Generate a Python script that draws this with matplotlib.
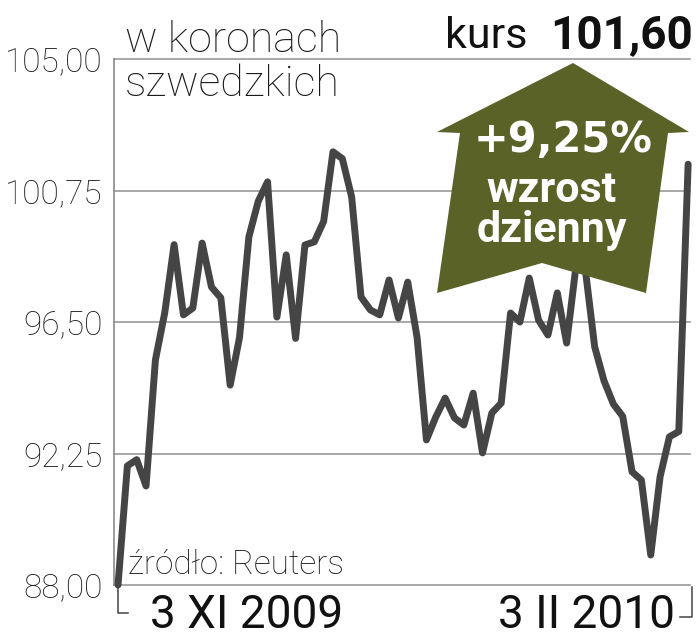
import matplotlib
matplotlib.use('Agg')
import matplotlib.pyplot as plt
from matplotlib.patches import Polygon
from matplotlib.lines import Line2D

# kurs akcji w koronach szwedzkich, 3 XI 2009 - 3 II 2010 (sesje)
kurs = [88.0, 91.85, 92.05, 91.2, 95.27, 96.8, 99.0, 96.73, 96.95, 99.05,
        97.63, 97.28, 94.46, 96.0, 99.25, 100.4, 101.03, 96.66, 98.67, 95.97,
        98.99, 99.09, 99.75, 102.0, 101.78, 100.54, 97.31, 96.89, 96.73, 97.86,
        96.63, 97.79, 96.0, 92.69, 93.43, 94.04, 93.4, 93.17, 94.2, 92.27,
        93.56, 93.88, 96.79, 96.5, 97.92, 96.56, 96.08, 97.44, 95.82, 98.3,
        98.2, 95.7, 94.6, 93.85, 93.45, 91.66, 91.39, 88.97, 91.5, 92.79,
        92.96, 101.6]
sesje = list(range(len(kurs)))

y_ticks = [88.0, 92.25, 96.5, 100.75, 105.0]
y_labels = ['88,00', '92,25', '96,50', '100,75', '105,00']
daty = ['3 XI 2009', '3 II 2010']

W, H = 699, 640


def px(x, y):
    # pixel position -> figure fraction
    return (x / W, 1 - y / H)


fig = plt.figure(figsize=(W / 100, H / 100), dpi=100)
ax = fig.add_axes([114 / W, 55 / H, 576 / W, 526 / H])

ax.plot(sesje, kurs, color='#454545', lw=5.0, solid_joinstyle='round',
        solid_capstyle='round', zorder=3, clip_on=False)

ax.set_xlim(-0.43, len(kurs) - 1 + 0.2)
ax.set_ylim(88, 105)
ax.set_yticks(y_ticks)
ax.set_yticklabels(y_labels, fontname='Roboto', fontweight='light',
                   fontsize=24, color='#1a1a1a')
ax.tick_params(axis='y', length=0, pad=8)
ax.set_xticks([])
for yt in y_ticks:
    ax.axhline(yt, color='#9a9a9a', lw=1.2, zorder=1, clip_on=False)
for s in ['top', 'right', 'bottom']:
    ax.spines[s].set_visible(False)
ax.spines['left'].set_color('#8a8a8a')
ax.spines['left'].set_linewidth(1.2)

# nawiasy pod osia
br = dict(color='#444444', lw=1.1, transform=ax.transAxes, clip_on=False)
ax.add_line(Line2D([0.007, 0.007, 0.024], [-0.006, -0.053, -0.053], **br))
ax.add_line(Line2D([0.983, 1.003, 1.003], [-0.061, -0.061, -0.004], **br))

ax.text(0.0625, -0.082, daty[0], transform=ax.transAxes, ha='left',
        va='baseline', fontname='Roboto', fontsize=33, color='#111111')
ax.text(0.974, -0.082, daty[1], transform=ax.transAxes, ha='right',
        va='baseline', fontname='Roboto', fontsize=33, color='#111111')

ax.text(0.024, 0.02, 'źródło: Reuters', transform=ax.transAxes, ha='left',
        va='baseline', fontname='Roboto', fontweight='light', fontsize=24,
        color='#1a1a1a', zorder=4)

# naglowki
fig.text(*px(125, 52), 'w koronach', fontname='Roboto', fontweight='light',
         fontsize=31, color='#1a1a1a', va='baseline')
fig.text(*px(125, 96), 'szwedzkich', fontname='Roboto', fontweight='light',
         fontsize=31, color='#1a1a1a', va='baseline')
fig.text(*px(445, 48), 'kurs', fontname='Roboto', fontsize=31,
         color='#111111', va='baseline')
fig.text(*px(693, 48), '101,60', fontname='Roboto', fontweight='bold',
         fontsize=33, color='#111111', va='baseline', ha='right')

# strzalka
pts = [px(573, 63), px(689, 132), px(668, 133), px(646, 293), px(542, 263),
       px(437, 293), px(460, 133), px(437, 132)]
fig.patches.append(Polygon(pts, closed=True, transform=fig.transFigure,
                           facecolor='#5a6227', edgecolor='none', zorder=5))
fig.text(*px(563, 152), '+9,25%', fontname='DejaVu Sans', fontweight='bold',
         fontsize=30, color='white', ha='center', va='baseline', zorder=6)
fig.text(*px(552, 202), 'wzrost', fontname='Roboto', fontweight='bold',
         fontsize=31, color='white', ha='center', va='baseline', zorder=6)
fig.text(*px(552, 242), 'dzienny', fontname='Roboto', fontweight='bold',
         fontsize=31, color='white', ha='center', va='baseline', zorder=6)

fig.savefig('out.png', dpi=100)
